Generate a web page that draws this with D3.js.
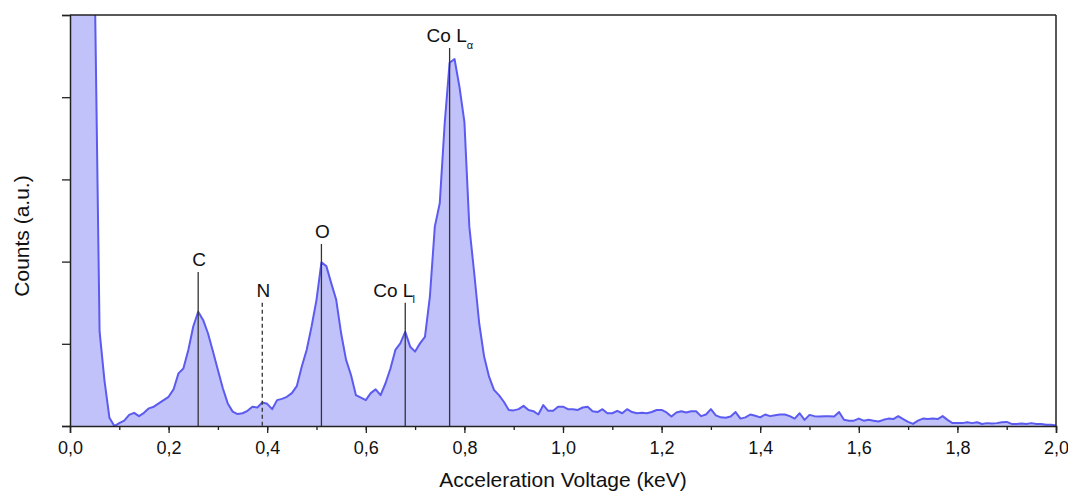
<!DOCTYPE html>
<html>
<head>
<meta charset="utf-8">
<script src="https://cdn.jsdelivr.net/npm/d3@7"></script>
<style>
  body { margin: 0; background: #fff; }
  text { font-family: "Liberation Sans", Arial, sans-serif; fill: #111; }
</style>
</head>
<body>
<svg id="chart" width="1068" height="491"></svg>
<script>
// energy grid, 0.01 keV steps from 0.00 to 2.00
var energies = d3.range(0, 201).map(function(i) { return +(i * 0.01).toFixed(2); });

// counts (a.u., 100 = top of the frame)
var counts = [
  150, 150, 150, 150, 140, 110, 23, 11, 2, 0,
  0.7, 1.3, 2.7, 3.2, 2.4, 3.2, 4.3, 4.7, 5.5, 6.3,
  7.1, 8.9, 12.8, 14.0, 18.5, 24.2, 27.8, 25.8, 22.5, 18.1,
  13.6, 9.2, 5.5, 3.5, 2.9, 3.1, 3.7, 4.7, 4.5, 5.7,
  5.4, 4.1, 6.3, 6.6, 7.1, 8.0, 9.7, 14.4, 18.5, 24.2,
  30.7, 39.8, 38.9, 34.7, 30.7, 22.5, 16.1, 12.4, 7.5, 6.9,
  6.3, 8.0, 8.9, 7.5, 10.4, 14.0, 18.5, 20.1, 22.9, 19.3,
  18.1, 20.1, 21.7, 31.5, 48.5, 54.2, 73.6, 88.4, 89.3, 82.5,
  74.0, 48.5, 37.1, 25.0, 16.9, 12.0, 8.8, 7.5, 5.9, 3.9,
  3.8, 4.1, 4.9, 3.9, 3.6, 2.8, 5.1, 3.7, 3.7, 4.7,
  4.7, 4.1, 4.1, 3.9, 4.5, 4.7, 3.6, 3.4, 4.1, 3.1,
  3.1, 3.7, 3.1, 4.1, 3.4, 3.1, 3.2, 3.1, 3.4, 3.9,
  3.9, 3.3, 2.3, 3.3, 3.6, 3.3, 3.6, 3.6, 2.4, 2.8,
  4.1, 2.6, 2.1, 2.0, 2.3, 3.4, 1.8, 2.1, 2.8, 2.5,
  2.1, 2.8, 2.4, 2.6, 2.8, 2.8, 2.4, 1.8, 3.1, 1.5,
  2.7, 2.4, 2.3, 2.4, 2.4, 2.3, 3.4, 1.5, 1.3, 1.3,
  1.8, 1.3, 1.5, 1.3, 1.1, 1.5, 1.8, 1.7, 2.4, 1.7,
  1.0, 0.5, 1.3, 1.8, 1.7, 1.8, 1.7, 2.4, 1.5, 0.7,
  0.7, 0.7, 0.9, 0.7, 0.9, 0.5, 0.7, 0.6, 0.7, 0.9,
  1.0, 0.5, 0.5, 0.6, 0.5, 0.7, 0.5, 0.5, 0.3, 0.3,
  0.1
];

// peak markers
var peakNames = ["C", "N", "O", "Co L", "Co L"];
var peakSubs = ["", "", "", "l", "\u03b1"];
var peakEnergies = [0.26, 0.39, 0.51, 0.68, 0.77];
var peakTops = [37.5, 30, 44.3, 30, 92];
var peakDashed = [false, true, false, false, false];

var xTicks = [0, 0.2, 0.4, 0.6, 0.8, 1.0, 1.2, 1.4, 1.6, 1.8, 2.0];
var xMinorTicks = d3.range(0, 20).map(function(i) { return +(i * 0.1 + 0.1).toFixed(1); });
var yTicks = [0, 20, 40, 60, 80, 100];

var svg = d3.select("#chart");
var margin = {left: 70, top: 15, right: 12, bottom: 65};
var width = 1068 - margin.left - margin.right,
    height = 491 - margin.top - margin.bottom;

var x = d3.scaleLinear().domain([0, 2]).range([0, width]);
var y = d3.scaleLinear().domain([0, 100]).range([height, 0]);

var g = svg.append("g").attr("transform", "translate(" + margin.left + "," + margin.top + ")");

g.append("clipPath").attr("id", "plot-clip")
  .append("rect").attr("x", 0).attr("y", 0).attr("width", width).attr("height", height);

var pts = energies.map(function(e, i) { return [e, counts[i]]; });

var area = d3.area()
  .x(function(d) { return x(d[0]); })
  .y0(height)
  .y1(function(d) { return y(d[1]); });

var line = d3.line()
  .x(function(d) { return x(d[0]); })
  .y(function(d) { return y(d[1]); });

var plot = g.append("g").attr("clip-path", "url(#plot-clip)");

plot.append("path")
  .datum(pts)
  .attr("d", area)
  .attr("fill", "#c2c2fa");

plot.append("path")
  .datum(pts)
  .attr("d", line)
  .attr("fill", "none")
  .attr("stroke", "#5b5bf0")
  .attr("stroke-width", 2)
  .attr("stroke-linejoin", "round");

// marker lines + labels
peakEnergies.forEach(function(e, i) {
  g.append("line")
    .attr("x1", x(e)).attr("x2", x(e))
    .attr("y1", y(peakTops[i])).attr("y2", height)
    .attr("stroke", "#333")
    .attr("stroke-width", 1.3)
    .attr("stroke-dasharray", peakDashed[i] ? "4,3" : null);

  var label = g.append("text")
    .attr("y", y(peakTops[i]) - 6)
    .attr("font-size", 19);

  if (peakSubs[i]) {
    // Co lines: name starts left of the marker, subscript after it
    label.attr("x", x(e) - (peakSubs[i] == "l" ? 32 : 23))
      .attr("text-anchor", "start");
    label.append("tspan").text(peakNames[i]);
    label.append("tspan")
      .attr("font-size", 11)
      .attr("dy", peakSubs[i] == "l" ? 6 : 7)
      .attr("dx", peakSubs[i] == "l" ? -1 : 0)
      .text(peakSubs[i]);
  } else {
    label.attr("x", x(e) + 1).attr("text-anchor", "middle").text(peakNames[i]);
  }
});

// frame
g.append("line").attr("x1", 0).attr("x2", width).attr("y1", 0).attr("y2", 0)
  .attr("stroke", "#222").attr("stroke-width", 1.5);
g.append("line").attr("x1", width).attr("x2", width).attr("y1", 0).attr("y2", height)
  .attr("stroke", "#222").attr("stroke-width", 1.5);

// axes
var fmt = function(d) { return d3.format(".1f")(d).replace(".", ","); };

var xAxis = g.append("g")
  .attr("transform", "translate(0," + height + ")")
  .call(d3.axisBottom(x).tickValues(xTicks).tickFormat(fmt).tickSize(7).tickPadding(8));

g.append("g")
  .attr("transform", "translate(0," + height + ")")
  .call(d3.axisBottom(x).tickValues(xMinorTicks).tickFormat("").tickSize(4))
  .call(function(s) { s.select(".domain").remove(); });

var yAxis = g.append("g")
  .call(d3.axisLeft(y).tickValues(yTicks).tickFormat("").tickSize(8));

svg.selectAll(".domain").attr("stroke", "#222").attr("stroke-width", 1.5);
svg.selectAll(".tick line").attr("stroke", "#222").attr("stroke-width", 1.3);
xAxis.selectAll("text").attr("font-size", 18).attr("fill", "#111");

// axis titles
svg.append("text")
  .attr("x", margin.left + width / 2)
  .attr("y", 487)
  .attr("text-anchor", "middle")
  .attr("font-size", 21)
  .text("Acceleration Voltage (keV)");

svg.append("text")
  .attr("transform", "translate(29,236) rotate(-90)")
  .attr("text-anchor", "middle")
  .attr("font-size", 21)
  .text("Counts (a.u.)");
</script>
</body>
</html>
